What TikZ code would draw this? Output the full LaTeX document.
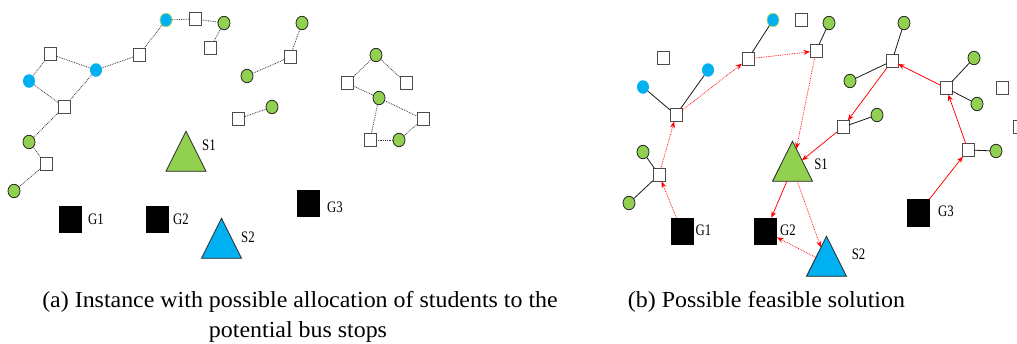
\documentclass[tikz,border=0pt]{standalone}
\usepackage{fontspec}
\setmainfont{Liberation Serif}
\newfontfamily\capfont[FakeStretch=1.04]{Liberation Serif}
\newfontfamily\labfont[FakeStretch=0.8]{Liberation Serif}
\usetikzlibrary{shapes.geometric,arrows.meta}
\definecolor{stgreen}{HTML}{92D050}
\definecolor{stblue}{HTML}{00B0F0}
\tikzset{
  student/.style={ellipse, minimum width=12pt, minimum height=13.5pt, inner sep=0pt, outer sep=0pt},
  gstud/.style={student, fill=stgreen, draw=black!85, line width=0.8pt},
  bstud/.style={student, fill=stblue},
  bgstud/.style={student, fill=stblue, draw=stgreen!80, line width=0.8pt},
  busstop/.style={rectangle, minimum width=12pt, minimum height=13pt, inner sep=0pt, outer sep=0pt, fill=white, draw=black!70, line width=0.9pt},
  school/.style={rectangle, minimum width=23pt, minimum height=27.5pt, inner sep=0pt, outer sep=0pt, fill=black},
  depot/.style={regular polygon, regular polygon sides=3, minimum size=46.19pt, inner sep=0pt, outer sep=0pt, draw=black!85, line width=0.8pt},
  lab/.style={inner sep=0pt, font=\labfont\fontsize{16}{18}\selectfont},
  captext/.style={inner sep=0pt, anchor=base, font=\capfont\fontsize{23}{28}\selectfont},
  walk/.style={draw=black!80, densely dotted, line width=0.8pt},
  assign/.style={draw=black!90, line width=0.8pt},
  route/.style={draw=red, line width=0.75pt, -{Stealth[length=6.5pt,width=5pt]}},
  routedot/.style={route, densely dotted},
}
\begin{document}
\begin{tikzpicture}[x=1pt,y=-1pt]
\useasboundingbox (0,0) rectangle (1017,343);

% ---------------- panel (a): instance ----------------
\node[bgstud]  (ab1) at (166,20) {};
\node[busstop] (as1) at (195,19) {};
\node[gstud]   (ag1) at (224,23) {};
\node[busstop] (as2) at (210,48) {};
\node[busstop] (as3) at (139,55) {};
\node[bstud]   (ab2) at (96,70) {};
\node[busstop] (as4) at (50,54) {};
\node[bstud]   (ab3) at (29,81) {};
\node[busstop] (as5) at (64,107) {};
\node[gstud]   (ag2) at (29,142) {};
\node[busstop] (as6) at (46,164) {};
\node[gstud]   (ag3) at (14,191) {};
\node[gstud]   (ag4) at (302,23) {};
\node[busstop] (as7) at (290,57) {};
\node[gstud]   (ag5) at (247,76) {};
\node[gstud]   (ag6) at (272,107) {};
\node[busstop] (as8) at (238,119) {};
\node[gstud]   (ag7) at (376,55) {};
\node[busstop] (as9) at (347,83) {};
\node[busstop] (as10) at (406,83) {};
\node[gstud]   (ag8) at (379,98) {};
\node[busstop] (as11) at (423,119) {};
\node[busstop] (as12) at (370,140) {};
\node[gstud]   (ag9) at (399,140) {};

\draw[walk] (ab1) -- (as1);
\draw[walk] (as1) -- (ag1);
\draw[walk] (ag1) -- (as2);
\draw[walk] (ab1) -- (as3);
\draw[walk] (as3) -- (ab2);
\draw[walk] (ab2) -- (as4);
\draw[walk] (as4) -- (ab3);
\draw[walk] (ab3) -- (as5);
\draw[walk] (as5) -- (ab2);
\draw[walk] (as5) -- (ag2);
\draw[walk] (ag2) -- (as6);
\draw[walk] (as6) -- (ag3);
\draw[walk] (ag4) -- (as7);
\draw[walk] (as7) -- (ag5);
\draw[walk] (ag6) -- (as8);
\draw[walk] (ag7) -- (as9);
\draw[walk] (ag7) -- (as10);
\draw[walk] (as9) -- (ag8);
\draw[walk] (ag8) -- (as11);
\draw[walk] (ag8) -- (as12);
\draw[walk] (as12) -- (ag9);
\draw[walk] (ag9) -- (as11);

\begin{scope}[shift={(186,158)}]
  \node[depot, fill=stgreen, yscale=1.155, transform shape] (aS1) at (0,0) {};
\end{scope}
\begin{scope}[shift={(221.5,245)}]
  \node[depot, fill=stblue, yscale=1.155, transform shape] (aS2) at (0,0) {};
\end{scope}
\node[lab] (aS1l) at (209,145) {S1};
\node[lab] (aS2l) at (248,237.5) {S2};

\node[school] (aG1) at (70,219.5) {};
\node[school] (aG2) at (157.5,219.5) {};
\node[school] (aG3) at (308,203.5) {};
\node[lab] (aG1l) at (96,219) {G1};
\node[lab] (aG2l) at (181,219) {G2};
\node[lab] (aG3l) at (335,207) {G3};

% ---------------- panel (b): solution ----------------
\node[bgstud]  (bb1) at (773,20) {};
\node[busstop] (bs1) at (801,20) {};
\node[gstud]   (bg1) at (829,23) {};
\node[busstop] (bs2) at (816,51) {};
\node[busstop] (bs3) at (748,59) {};
\node[busstop] (bs4) at (663,58) {};
\node[bstud]   (bb2) at (708,70) {};
\node[bstud]   (bb3) at (643,87) {};
\node[busstop] (bs5) at (676,115) {};
\node[gstud]   (bg2) at (643,152) {};
\node[busstop] (bs6) at (659,175) {};
\node[gstud]   (bg3) at (629,203) {};
\node[gstud]   (bg4) at (904,23) {};
\node[busstop] (bs7) at (892,61) {};
\node[gstud]   (bg5) at (850,81) {};
\node[gstud]   (bg6) at (974,58) {};
\node[busstop] (bs8) at (946,88) {};
\node[gstud]   (bg7) at (977,104) {};
\node[busstop] (bs9) at (1002,88) {};
\node[busstop] (bs10) at (843,127) {};
\node[gstud]   (bg8) at (877,115) {};
\node[busstop] (bs11) at (1019,127) {};
\node[busstop] (bs12) at (968,150) {};
\node[gstud]   (bg9) at (996,151) {};

\draw[assign] (bb1) -- (bs3);
\draw[assign] (bg1) -- (bs2);
\draw[assign] (bb3) -- (bs5);
\draw[assign] (bb2) -- (bs5);
\draw[assign] (bg2) -- (bs6);
\draw[assign] (bg3) -- (bs6);
\draw[assign] (bg4) -- (bs7);
\draw[assign] (bg5) -- (bs7);
\draw[assign] (bg6) -- (bs8);
\draw[assign] (bg7) -- (bs8);
\draw[assign] (bg8) -- (bs10);
\draw[assign] (bg9) -- (bs12);

\begin{scope}[shift={(792.5,168)}]
  \node[depot, fill=stgreen, yscale=1.155, transform shape] (bS1) at (0,0) {};
\end{scope}
\begin{scope}[shift={(826.5,263)}]
  \node[depot, fill=stblue, yscale=1.155, transform shape] (bS2) at (0,0) {};
\end{scope}
\node[lab] (bS1l) at (821,164) {S1};
\node[lab] (bS2l) at (858.5,254.5) {S2};

\node[school] (bG1) at (682,231.5) {};
\node[school] (bG2) at (765.5,231.5) {};
\node[school] (bG3) at (918.5,213) {};
\node[lab] (bG1l) at (703.5,230) {G1};
\node[lab] (bG2l) at (788,230) {G2};
\node[lab] (bG3l) at (946,211.5) {G3};

% route of the first bus (dotted)
\draw[routedot] (bG1) -- (bs6);
\draw[routedot] (bs6) -- (bs5);
\draw[routedot] (bs5) -- (bs3);
\draw[routedot] (bs3) -- (bs2);
\draw[routedot] (bs2) -- (bS1);
\draw[routedot] (bS1) -- (bS2);
\draw[routedot] (bS2) -- (bG2);

% route of the second bus (solid)
\draw[route] (bG3) -- (bs12);
\draw[route] (bs12) -- (bs8);
\draw[route] (bs8) -- (bs7);
\draw[route] (bs7) -- (bs10);
\draw[route] (bs10) -- (bS1);
\draw[route] (bS1) -- (bG2);

% ---------------- captions ----------------
\node[captext] (capa1) at (300,307) {(a) Instance with possible allocation of students to the};
\node[captext] (capa2) at (298,337) {potential bus stops};
\node[captext] (capb) at (766.5,307) {(b) Possible feasible solution};
\end{tikzpicture}
\end{document}
